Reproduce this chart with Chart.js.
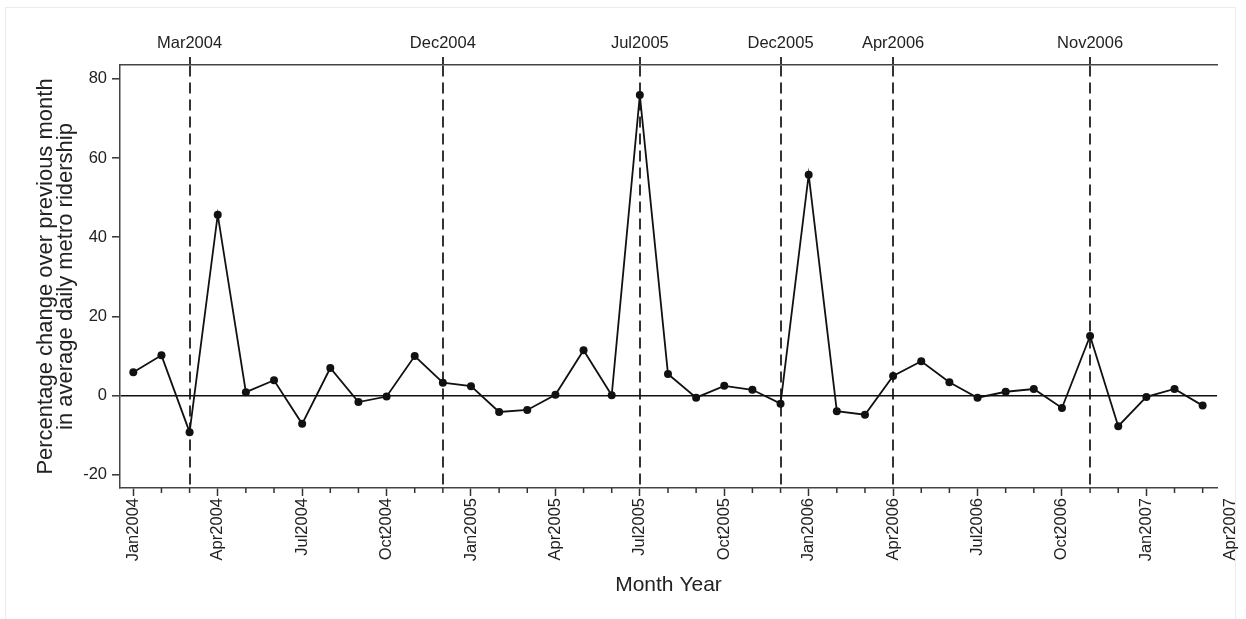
<!DOCTYPE html>
<html>
<head>
<meta charset="utf-8">
<script src="https://cdn.jsdelivr.net/npm/chart.js@4/dist/chart.umd.min.js"></script>
<style>
  html, body { margin: 0; padding: 0; background: #ffffff; }
  #wrap { position: relative; width: 1246px; height: 619px; }
  #frame { position: absolute; left: 5px; top: 7px; width: 1231px; height: 620px; border: 1px solid #ececec; box-sizing: border-box; pointer-events: none; }
  canvas { position: absolute; left: 0; top: 0; }
</style>
</head>
<body>
<div id="wrap">
  <div id="frame"></div>
  <canvas id="c" width="1246" height="619"></canvas>
</div>
<script>
// ---- data (month index 0 = Jan2004) ----
const months = ['Jan2004','Feb2004','Mar2004','Apr2004','May2004','Jun2004','Jul2004','Aug2004','Sep2004','Oct2004','Nov2004','Dec2004',
                'Jan2005','Feb2005','Mar2005','Apr2005','May2005','Jun2005','Jul2005','Aug2005','Sep2005','Oct2005','Nov2005','Dec2005',
                'Jan2006','Feb2006','Mar2006','Apr2006','May2006','Jun2006','Jul2006','Aug2006','Sep2006','Oct2006','Nov2006','Dec2006',
                'Jan2007','Feb2007','Mar2007'];
const pctChange = [5.9, 10.2, -9.2, 45.7, 0.9, 3.9, -7.1, 7.0, -1.6, -0.2, 10.0, 3.3,
                   2.4, -4.1, -3.6, 0.25, 11.5, 0.1, 75.9, 5.5, -0.5, 2.5, 1.5, -2.0,
                   55.8, -3.9, -4.8, 5.0, 8.7, 3.4, -0.5, 1.0, 1.7, -3.1, 15.1, -7.7,
                   -0.3, 1.7, -2.5];
const xTickLabels = ['Jan2004','Apr2004','Jul2004','Oct2004','Jan2005','Apr2005','Jul2005','Oct2005',
                     'Jan2006','Apr2006','Jul2006','Oct2006','Jan2007','Apr2007'];
const xTickMonths = [0,3,6,9,12,15,18,21,24,27,30,33,36,39];
const eventLabels = ['Mar2004','Dec2004','Jul2005','Dec2005','Apr2006','Nov2006'];
const eventMonths = [2,11,18,23,27,34];
const yTicks = [-20,0,20,40,60,80];

const FONT = "'Liberation Sans', Arial, Helvetica, sans-serif";
const X_MIN = -0.473, X_MAX = 38.51;
const LAST_DATA = months.length - 1;

const minorTicks = {
  id: 'minorTicks',
  afterDraw(chart) {
    const s = chart.scales.x;
    const ctx = chart.ctx;
    ctx.save();
    ctx.strokeStyle = '#333';
    ctx.lineWidth = 1.5;
    for (let i = 0; i < months.length; i++) {
      if (xTickMonths.includes(i)) continue;
      const px = s.getPixelForValue(i);
      ctx.beginPath();
      ctx.moveTo(px, s.top);
      ctx.lineTo(px, s.top + 5);
      ctx.stroke();
    }
    ctx.restore();
  }
};

const data = pctChange.map((v, i) => ({ x: i, y: v }));

const noSidePad = (s) => { s.paddingLeft = 0; s.paddingRight = 0; };

new Chart(document.getElementById('c'), {
  type: 'line',
  data: {
    datasets: [{
      data: data,
      borderColor: '#111',
      borderWidth: 1.8,
      pointRadius: 4,
      pointBackgroundColor: '#111',
      pointBorderWidth: 0,
      tension: 0,
      xAxisID: 'x',
      yAxisID: 'y'
    }]
  },
  options: {
    responsive: false,
    animation: false,
    layout: { padding: { left: 0, right: 29, top: 0, bottom: 0 } },
    plugins: { legend: { display: false }, tooltip: { enabled: false } },
    scales: {
      x: {
        type: 'linear',
        position: 'bottom',
        min: X_MIN, max: X_MAX,
        afterBuildTicks: (s) => { s.ticks = Array.from({ length: 40 }, (_, i) => ({ value: i })); },
        afterFit: (s) => { s.height = 131; noSidePad(s); },
        ticks: {
          autoSkip: false,
          maxRotation: 90, minRotation: 90,
          padding: 2,
          color: '#222',
          font: { family: FONT, size: 16.5 },
          callback: (v) => { const k = xTickMonths.indexOf(v); return k >= 0 ? xTickLabels[k] : ''; }
        },
        grid: {
          drawOnChartArea: false,
          tickLength: 8,
          tickWidth: 1.5,
          tickColor: (c) => (c.tick && xTickMonths.includes(c.tick.value) && c.tick.value <= LAST_DATA) ? '#333' : 'rgba(0,0,0,0)'
        },
        border: { display: true, color: '#444', width: 1.5 },
        title: {
          display: true,
          text: 'Month Year',
          color: '#222',
          font: { family: FONT, size: 21, lineHeight: 1.2 },
          padding: { top: 0, bottom: 21 }
        }
      },
      top: {
        type: 'linear',
        position: 'top',
        min: X_MIN, max: X_MAX,
        afterBuildTicks: (s) => { s.ticks = eventMonths.map(v => ({ value: v })); },
        afterFit: (s) => { s.height = 65; noSidePad(s); },
        ticks: {
          autoSkip: false,
          maxRotation: 0, minRotation: 0,
          padding: 4,
          color: '#222',
          font: { family: FONT, size: 16.5 },
          callback: (v) => { const k = eventMonths.indexOf(v); return k >= 0 ? eventLabels[k] : ''; }
        },
        grid: {
          drawOnChartArea: true,
          color: '#333',
          lineWidth: 2,
          tickLength: 8,
          tickWidth: 2,
          tickColor: '#333'
        },
        border: { display: true, color: '#444', width: 1.5, dash: [11, 6] }
      },
      y: {
        type: 'linear',
        position: 'left',
        min: -23.3, max: 83.5,
        afterBuildTicks: (s) => { s.ticks = yTicks.map(v => ({ value: v })); },
        afterFit: (s) => { s.width = 120; },
        ticks: {
          padding: 5,
          color: '#222',
          font: { family: FONT, size: 16.5 }
        },
        grid: {
          drawOnChartArea: true,
          color: (c) => (c.tick && c.tick.value === 0) ? '#111' : 'rgba(0,0,0,0)',
          lineWidth: 1.6,
          tickLength: 8,
          tickWidth: 1.5,
          tickColor: '#333'
        },
        border: { display: true, color: '#444', width: 1.5 },
        title: {
          display: true,
          text: ['Percentage change over previous month', 'in average daily metro ridership'],
          color: '#222',
          font: { family: FONT, size: 22, lineHeight: 0.9 },
          padding: { top: 36, bottom: 0 }
        }
      }
    }
  },
  plugins: [minorTicks]
});
</script>
</body>
</html>
